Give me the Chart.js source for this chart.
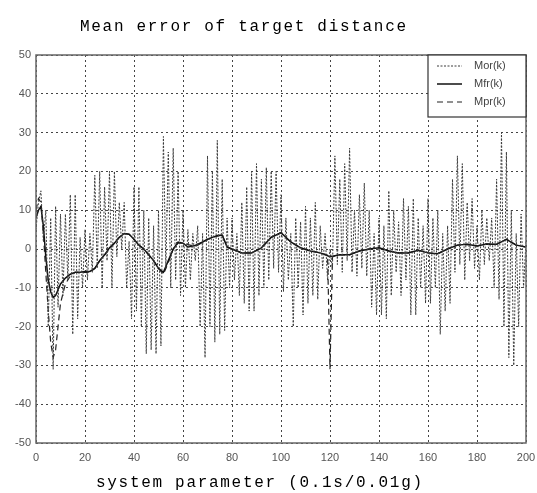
<!DOCTYPE html>
<html>
<head>
<meta charset="utf-8">
<script src="https://cdn.jsdelivr.net/npm/chart.js@4"></script>
<style>
  body { margin: 0; background: #fff; }
</style>
</head>
<body>
<canvas id="grafico" width="537" height="493"></canvas>
<script>
// textos del grafico
const tituloTexto = "Mean error of target distance";
const ejeXTexto = "system parameter (0.1s/0.01g)";
const nombres = ["Mor(k)", "Mfr(k)", "Mpr(k)"];

// Mor(k): un valor por cada paso 0..200
const morY = [
  5, 12, 15, 2, 10, -20, 8, -31, 11, -15,
  9, -12, 9, -8, 14, -22, 14, -18, 3, -10,
  5, -8, 4, -6, 19, -5, 20, -10, 16, -3,
  20, -10, 20, -2, 12, 0, 12, -10, 2, -18,
  16, -16, 16, -20, 10, -27, 8, -26, 6, -27,
  10, -25, 29, -5, 25, -10, 26, -8, 20, -12,
  10, -10, 5, -8, 4, -3, 6, -20, 4, -28,
  24, -20, 20, -24, 28, -22, 18, -21, 8, -10,
  8, -8, 4, -12, 12, -14, 16, -16, 20, -16,
  22, -12, 18, -10, 21, -8, 20, -5, 20, -6,
  14, -11, 8, -8, 4, -20, 8, -10, 7, -17,
  11, -14, 8, -12, 12, -13, 6, -5, 4, -8,
  0, -5, 24, -4, 18, -6, 22, -3, 26, -6,
  10, -7, 14, -5, 17, -7, 10, -15, 4, -17,
  8, -17, 6, -18, 15, -12, 10, -6, 7, -12,
  13, -8, 11, -17, 13, -17, 8, -10, 6, -14,
  13, -14, 8, -10, 10, -22, 4, -16, 6, -14,
  18, -6, 24, -4, 22, -8, 12, -3, 13, -5,
  6, -8, 10, -4, 8, -3, 8, -10, 18, -13,
  30, -20, 25, -28, 10, -30, 4, -20, 9, -10,
  2
];
const morX = morY.map((_, i) => i);

// Mfr(k)
const mfrX = [0, 1, 2, 3, 4, 5, 6, 7, 8, 9, 10,
  12, 14, 16, 18, 20, 22, 24, 26, 28, 30, 32, 34, 36, 38, 40, 42, 44, 46, 48, 50,
  52, 54, 56, 58, 60, 62, 64, 66, 68, 70, 72, 74, 76, 78, 80,
  84, 88, 92, 96, 100, 104, 108, 112, 116, 120, 124, 128, 132, 136, 140,
  144, 148, 152, 156, 160, 164, 168, 172, 176, 180, 184, 188, 192, 196, 200];
const mfrY = [8, 10, 11, 6, -2, -8, -11, -12.5, -12, -10.5, -9,
  -7.5, -6.5, -6, -6, -5.8, -5.8, -5, -3, -1.5, 0.3, 1.5, 3, 4, 3.8, 2.5, 1, 0, -1.5, -3, -5,
  -6, -3, 0, 1.8, 1.5, 0.5, 0.8, 1, 1.8, 2.5, 3, 3.5, 3.6, 0.5, 0,
  -1, -1, 0.3, 3, 4.2, 1.8, 0.3, -0.5, -1, -2, -1.5, -1.5, -0.5, 0, 0.3,
  -0.5, -1, -1, -0.3, -1, -1.2, 0, 1, 1.2, 0.8, 1.3, 1.2, 2.5, 1, 0.5];

// Mpr(k)
const mprX = [0, 1, 2, 3, 4, 5, 6, 7, 8, 9, 10,
  12, 14, 16, 18, 20, 22, 24, 26, 28, 30, 32, 34, 36, 38, 40, 42, 44, 46, 48, 50,
  52, 54, 56, 58, 60,
  64, 68, 72, 76, 78, 80, 84, 88, 92, 96, 100, 104, 108, 112, 116, 119, 120, 121,
  124, 128, 132, 136, 140, 144, 148, 152, 156, 160, 164, 168, 172, 176, 180, 184, 188, 192, 196, 200];
const mprY = [10, 13, 12, 4, -6, -16, -24, -28, -26, -20, -14,
  -9, -7, -6, -6, -6, -6, -5, -3, -1.5, 0, 1.5, 3, 4, 3.8, 2.5, 1, 0, -1.5, -3, -5,
  -6.5, -3.5, 0, 1.5, 1.5,
  0.8, 1.8, 3, 3.6, 0.5, 0, -1, -1, 0.3, 3, 4.2, 1.8, 0.3, -0.5, -1, -1.5, -31, -2,
  -1.5, -1.5, -0.5, 0, 0.3, -0.5, -1, -1, -0.3, -1, -1.2, 0, 1, 1.2, 0.8, 1.3, 1.2, 2.5, 1, 0.5];

const pares = (xs, ys) => xs.map((x, i) => ({ x: x, y: ys[i] }));

// estilos de linea: punteada, continua, discontinua
const estilos = [
  { color: "#3a3a3a", width: 1, dash: [2, 1.5] },
  { color: "#111", width: 1.5, dash: [] },
  { color: "#222", width: 1.2, dash: [6, 4] },
];

const decoracion = {
  id: "decoracion",
  afterDraw(chart) {
    const ctx = chart.ctx;
    const a = chart.chartArea;
    ctx.save();
    // marco
    ctx.strokeStyle = "#666";
    ctx.lineWidth = 1.5;
    ctx.setLineDash([]);
    ctx.strokeRect(a.left, a.top, a.right - a.left, a.bottom - a.top);

    // titulo y eje x
    ctx.fillStyle = "#000";
    ctx.font = "16px 'Liberation Mono'";
    ctx.letterSpacing = "1.7px";
    ctx.textAlign = "left";
    ctx.textBaseline = "middle";
    ctx.fillText(tituloTexto, 80, 27);
    ctx.fillText(ejeXTexto, 96, 483);
    ctx.letterSpacing = "0px";

    // leyenda
    const lx = 428, ly = a.top, lw = a.right - lx, lh = 62;
    ctx.fillStyle = "#fff";
    ctx.fillRect(lx, ly, lw, lh);
    ctx.strokeStyle = "#333";
    ctx.lineWidth = 1.2;
    ctx.strokeRect(lx, ly, lw, lh);
    ctx.font = "11px 'Liberation Sans'";
    ctx.textAlign = "left";
    nombres.forEach((n, i) => {
      const y = ly + 11 + i * 18;
      const e = estilos[i];
      ctx.strokeStyle = e.color;
      ctx.lineWidth = e.width;
      ctx.setLineDash(e.dash);
      ctx.beginPath();
      ctx.moveTo(437, y);
      ctx.lineTo(462, y);
      ctx.stroke();
      ctx.setLineDash([]);
      ctx.fillStyle = "#444";
      ctx.fillText(n, 474, y);
    });
    ctx.restore();
  },
};

new Chart(document.getElementById("grafico"), {
  type: "line",
  data: {
    datasets: [
      { label: nombres[0], data: pares(morX, morY) },
      { label: nombres[1], data: pares(mfrX, mfrY) },
      { label: nombres[2], data: pares(mprX, mprY) },
    ].map((d, i) => Object.assign(d, {
      borderColor: estilos[i].color,
      borderWidth: estilos[i].width,
      borderDash: estilos[i].dash,
      pointRadius: 0,
      tension: 0,
      fill: false,
    })),
  },
  options: {
    responsive: false,
    animation: false,
    devicePixelRatio: 1,
    layout: { padding: { top: 55, right: 11, left: 0, bottom: 0 } },
    plugins: {
      legend: { display: false },
      title: { display: false },
      tooltip: { enabled: false },
    },
    scales: {
      x: {
        type: "linear",
        min: 0,
        max: 200,
        afterFit: (s) => { s.height = 50; s.paddingRight = 0; s.paddingLeft = 0; },
        ticks: {
          stepSize: 20,
          padding: 8,
          maxRotation: 0,
          color: "#555",
          font: { family: "Liberation Sans", size: 11 },
        },
        grid: { color: "#444", lineWidth: 1, drawTicks: false },
        border: { display: false, dash: [2, 3] },
      },
      y: {
        min: -50,
        max: 50,
        afterFit: (s) => { s.width = 36; },
        ticks: {
          stepSize: 10,
          padding: 5,
          color: "#555",
          font: { family: "Liberation Sans", size: 11 },
        },
        grid: { color: "#444", lineWidth: 1, drawTicks: false },
        border: { display: false, dash: [2, 3] },
      },
    },
  },
  plugins: [decoracion],
});
</script>
</body>
</html>
